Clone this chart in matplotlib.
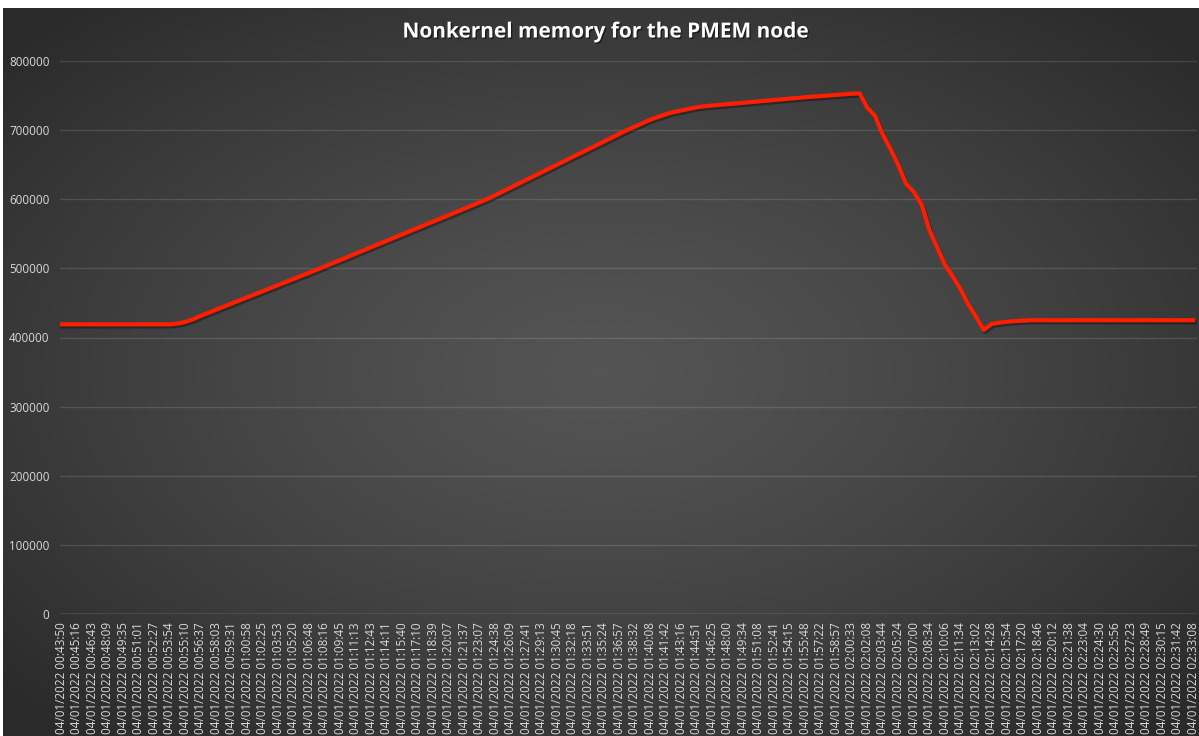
import numpy as np
import matplotlib
matplotlib.use("Agg")
import matplotlib.pyplot as plt
import matplotlib.patheffects as pe

# ---------------- data ----------------
title = "Nonkernel memory for the PMEM node"
date_str = "04/01/2022"
tick_times = [
    "00:43:50", "00:45:16", "00:46:43", "00:48:09", "00:49:35", "00:51:01", "00:52:27", "00:53:54",
    "00:55:10", "00:56:37", "00:58:03", "00:59:31", "01:00:58", "01:02:25", "01:03:53", "01:05:20",
    "01:06:48", "01:08:16", "01:09:45", "01:11:13", "01:12:43", "01:14:11", "01:15:40", "01:17:10",
    "01:18:39", "01:20:07", "01:21:37", "01:23:07", "01:24:38", "01:26:09", "01:27:41", "01:29:13",
    "01:30:45", "01:32:18", "01:33:51", "01:35:24", "01:36:57", "01:38:32", "01:40:08", "01:41:42",
    "01:43:16", "01:44:51", "01:46:25", "01:48:00", "01:49:34", "01:51:08", "01:52:41", "01:54:15",
    "01:55:48", "01:57:22", "01:58:57", "02:00:33", "02:02:08", "02:03:44", "02:05:24", "02:07:00",
    "02:08:34", "02:10:06", "02:11:34", "02:13:02", "02:14:28", "02:15:54", "02:17:20", "02:18:46",
    "02:20:12", "02:21:38", "02:23:04", "02:24:30", "02:25:56", "02:27:23", "02:28:49", "02:30:15",
    "02:31:42", "02:33:08",
]
samples_per_label = 2

# memory samples (two samples per labelled timestamp)
memory = [
    419000, 419000, 419000, 419000, 419000, 419000, 419000, 419000, 419000, 419000,
    419000, 419000, 419000, 419000, 419000, 420100, 422500, 426300, 431300, 435800,
    440300, 444800, 449200, 453700, 458100, 462600, 467000, 471500, 475900, 480400,
    484800, 489300, 493700, 498200, 502800, 507400, 512100, 516700, 521400, 526000,
    530700, 535300, 539900, 544600, 549200, 553900, 558500, 563200, 567800, 572400,
    577100, 581700, 586400, 591000, 595700, 600400, 605900, 611400, 617000, 622500,
    628100, 633600, 639100, 644700, 650200, 655800, 661300, 666800, 672400, 677900,
    683500, 689000, 694500, 700100, 705100, 710200, 715200, 719000, 723000, 726100,
    728400, 730800, 733100, 734600, 735600, 736600, 737600, 738600, 739700, 740700,
    741700, 742700, 743700, 744700, 745700, 746700, 747600, 748400, 749300, 750100,
    751000, 751800, 752700, 753000, 732000, 720000, 692900, 672000, 648700, 622000,
    610000, 592000, 555000, 530000, 505000, 488000, 470000, 448000, 430000, 411000,
    419500, 421500, 422800, 423700, 424300, 425000, 425000, 425000, 425000, 425000,
    425000, 425000, 425000, 425000, 425000, 425000, 425000, 425000, 425000, 425000,
    425000, 425000, 425000, 425000, 425000, 425000, 425000,
]
y_ticks = [0, 100000, 200000, 300000, 400000, 500000, 600000, 700000, 800000]

# ---------------- figure ----------------
W, H = 1199, 736
fig = plt.figure(figsize=(W / 100, H / 100), dpi=100)
fig.patch.set_facecolor("white")

# radial gradient background
bg = fig.add_axes([3 / W, 0, 1 - 3 / W, 1 - 8 / H], zorder=0)
gx = np.linspace(-1, 1, 600)
gy = np.linspace(-1, 1, 400)
GX, GY = np.meshgrid(gx, gy)
R = np.clip(np.sqrt(GX ** 2 + GY ** 2) / 1.35, 0, 1)
c_in, c_out = 0.33, 0.165
val = c_in + (c_out - c_in) * R ** 1.3
img = np.dstack([val, val, val])
bg.imshow(img, extent=[0, 1, 0, 1], aspect="auto", origin="lower")
bg.axis("off")

ax = fig.add_axes([60 / W, 1 - 614 / H, (1197 - 60) / W, (614 - 61) / H], zorder=1)
ax.patch.set_alpha(0)

x = np.arange(len(memory))
ax.plot(x, memory, color="#ff1e00", lw=3.0, solid_joinstyle="round",
        path_effects=[pe.SimpleLineShadow(offset=(1, -1.5), shadow_color="black", alpha=0.35),
                      pe.Normal()], zorder=3)

ax.set_ylim(0, 800000)
ax.set_xlim(-0.15, len(memory) - 1 + 0.5)
ax.set_yticks(y_ticks)
ax.set_yticklabels([str(v) for v in y_ticks])
ax.set_xticks(np.arange(len(tick_times)) * samples_per_label)
ax.set_xticklabels([f"{date_str} {t}" for t in tick_times], rotation=90, va="top", ha="center")

for s in ax.spines.values():
    s.set_visible(False)
ax.tick_params(axis="both", length=0, colors="#d9d9d9", labelsize=8.4)
ax.tick_params(axis="y", pad=7.5)
ax.tick_params(axis="x", pad=6)
for lab in ax.get_xticklabels() + ax.get_yticklabels():
    lab.set_fontfamily("Open Sans")

ax.yaxis.grid(True, color="#ffffff", alpha=0.13, lw=1.0)
ax.xaxis.grid(False)
ax.axhline(0, color="#8a8a8a", lw=1.0, zorder=2)

fig.text(0.505, 1 - 32 / H, title, ha="center", va="center", color="white",
         fontsize=15, fontweight="bold", family="Open Sans",
         path_effects=[pe.withSimplePatchShadow(offset=(1, -1), shadow_rgbFace="black", alpha=0.5)])

fig.savefig("out.png", dpi=100)
